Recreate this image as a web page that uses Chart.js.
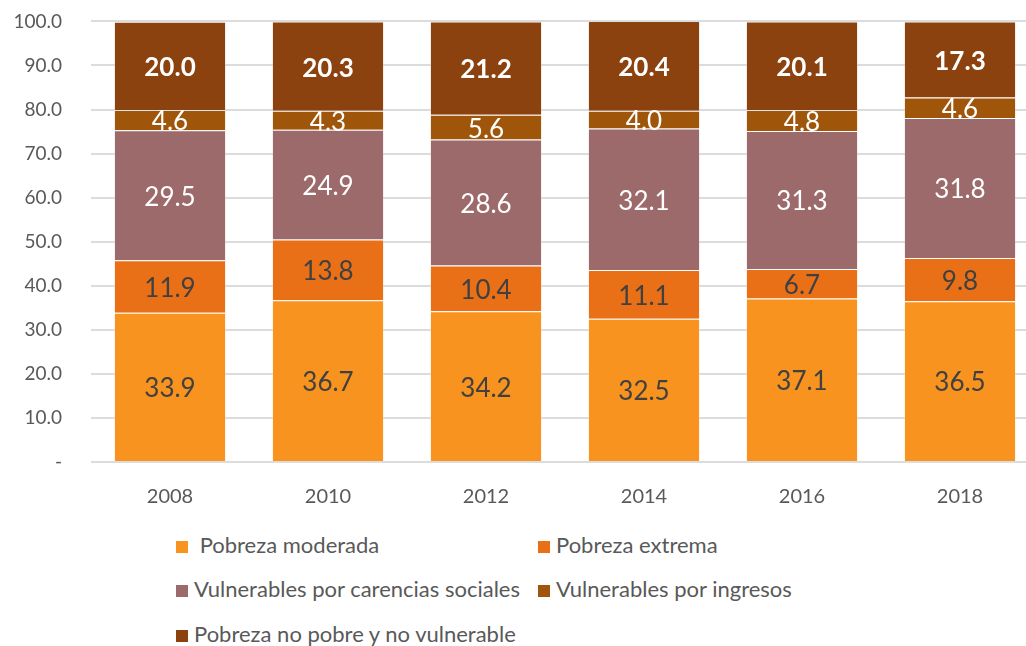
<!DOCTYPE html>
<html>
<head>
<meta charset="utf-8">
<script src="https://cdn.jsdelivr.net/npm/chart.js@4"></script>
<style>
  html, body { margin: 0; padding: 0; background: #fff; overflow: hidden; width: 1026px; height: 646px; }
  #wrap { position: relative; width: 1026px; height: 646px; overflow: hidden; }
  #chart { position: absolute; left: 0; top: -19px; }
  .lg { position: absolute; font-family: Lato, 'Open Sans', sans-serif; font-size: 22px; color: #595959; white-space: nowrap; line-height: 24px; }
  .lg i { display: inline-block; width: 12px; height: 12px; margin-right: 6px; vertical-align: 0px; }
</style>
</head>
<body>
<div id="wrap">
  <canvas id="chart" width="1050" height="534"></canvas>
  <div id="legend"></div>
</div>
<script>
/* ── DATA ── */
const years = ['2008', '2010', '2012', '2014', '2016', '2018'];
const seriesNames = [
  'Pobreza moderada',
  'Pobreza extrema',
  'Vulnerables por carencias sociales',
  'Vulnerables por ingresos',
  'Pobreza no pobre y no vulnerable'
];
const moderada   = [33.9, 36.7, 34.2, 32.5, 37.1, 36.5];
const extrema    = [11.9, 13.8, 10.4, 11.1, 6.7, 9.8];
const carencias  = [29.5, 24.9, 28.6, 32.1, 31.3, 31.8];
const ingresos   = [4.6, 4.3, 5.6, 4.0, 4.8, 4.6];
const noPobre    = [20.0, 20.3, 21.2, 20.4, 20.1, 17.3];
const yTicks     = [0, 10, 20, 30, 40, 50, 60, 70, 80, 90, 100];

const colors = ['#F7931E', '#EA7018', '#9C6A6A', '#A0560A', '#8B420F'];
const labelColors = ['#404040', '#404040', '#ffffff', '#ffffff', '#ffffff'];
const labelWeights = ['normal', 'normal', 'normal', 'normal', 'bold'];
const allSeries = [moderada, extrema, carencias, ingresos, noPobre];

const FONT = "Lato, 'Open Sans', sans-serif";

/* ── VALUE LABELS ── */
const valueLabels = {
  id: 'valueLabels',
  afterDatasetsDraw(chart) {
    const ctx = chart.ctx;
    ctx.save();
    chart.data.datasets.forEach((ds, i) => {
      const meta = chart.getDatasetMeta(i);
      meta.data.forEach((bar, j) => {
        const y = (bar.y + bar.base) / 2;
        ctx.font = labelWeights[i] + ' 26px ' + FONT;
        ctx.fillStyle = labelColors[i];
        ctx.textAlign = 'center';
        ctx.textBaseline = 'middle';
        ctx.fillText(ds.data[j].toFixed(1), bar.x, y + 2);
      });
    });
    ctx.restore();
  }
};

new Chart(document.getElementById('chart'), {
  type: 'bar',
  data: {
    labels: years,
    datasets: allSeries.map((d, i) => ({
      label: seriesNames[i],
      data: d,
      backgroundColor: colors[i],
      borderColor: 'rgba(255,255,255,0.22)',
      borderWidth: 1,
      barPercentage: 0.71,
      categoryPercentage: 1
    }))
  },
  options: {
    responsive: false,
    animation: false,
    layout: { autoPadding: false, padding: { top: 22, right: 11, left: 0, bottom: 0 } },
    plugins: { legend: { display: false }, tooltip: { enabled: false } },
    scales: {
      x: {
        stacked: true,
        grid: { display: false },
        border: { display: false },
        ticks: { padding: 15, color: '#595959', font: { family: FONT, size: 20 } },
        afterFit: s => { s.height = 53; }
      },
      y: {
        stacked: true,
        min: 0, max: 100,
        afterBuildTicks: s => { s.ticks = yTicks.map(v => ({ value: v })); },
        grid: { color: '#dcdcdc', lineWidth: 2, drawTicks: false },
        border: { display: false },
        ticks: {
          padding: 29,
          color: '#595959',
          font: { family: FONT, size: 19 },
          callback: v => v === 0 ? '-' : v.toFixed(1)
        },
        afterFit: s => { s.width = 91; }
      }
    }
  },
  plugins: [valueLabels]
});

/* ── LEGEND ── */
const legendPos = [
  [176, 533], [538, 533],
  [176, 577], [538, 577],
  [176, 622]
];
document.getElementById('legend').innerHTML = seriesNames.map((n, i) =>
  `<div class="lg" style="left:${legendPos[i][0]}px;top:${legendPos[i][1]}px"><i style="background:${colors[i]}"></i>${i === 0 ? '&nbsp;' : ''}${n}</div>`
).join('');
</script>
</body>
</html>
